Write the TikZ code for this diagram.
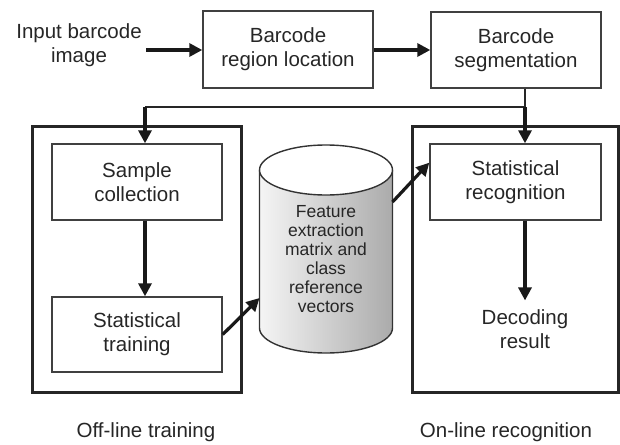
\documentclass[tikz,border=0pt]{standalone}
\usepackage{fontspec}
\setmainfont{Liberation Sans}
\usetikzlibrary{arrows.meta,calc}
\begin{document}
\begin{tikzpicture}[x=1pt,y=-1pt,
  txt/.style={text=black!85, align=center, font=\fontsize{20.5}{24}\selectfont},
  box/.style={txt, draw=black!75, line width=1.4pt, minimum width=170pt, inner sep=0pt},
  frame/.style={draw=black!85, line width=3pt, minimum width=206pt, minimum height=266pt},
  arr/.style={draw=black!90, line width=3.2pt, -{Triangle[length=13pt,width=13pt]}},
  thinline/.style={draw=black!85, line width=1.6pt},
  cylline/.style={draw=black!80, line width=1.4pt}]
\useasboundingbox (0,0) rectangle (620,444);

% top row
\node[txt] (in) at (79,45) {Input barcode\\image};
\node[box, minimum height=77pt] (loc) at (288,49.5) {Barcode\\region location};
\node[box, minimum height=76pt] (seg) at (516,50) {Barcode\\segmentation};

% frames
\node[frame, minimum width=209pt] (off) at (136.5,259) {};
\node[frame] (on) at (515,259) {};

% inner boxes
\node[box, minimum height=76pt] (samp) at (137,182) {Sample\\collection};
\node[box, minimum height=75pt] (train) at (137,334.5) {Statistical\\training};
\node[box, minimum width=171pt, minimum height=76pt] (recog) at (515.5,182) {Statistical\\recognition};
\node[txt] (dec) at (525,329.5) {Decoding\\result};

% labels
\node[txt] (offl) at (146,432) {Off-line training};
\node[txt] (onl) at (506,432) {On-line recognition};

% cylinder
\path[left color=black!4, right color=black!33]
  (259.5,170) -- (259.5,328) arc[start angle=180, end angle=0, x radius=66.5, y radius=25]
  -- (392.5,170) -- cycle;
\draw[cylline] (259.5,170) -- (259.5,328)
  arc[start angle=180, end angle=0, x radius=66.5, y radius=25] -- (392.5,170);
\draw[cylline, fill=white] (326,170) ellipse[x radius=66.5, y radius=25];
\node[align=center, text=black!85, font=\fontsize{17.5}{19}\selectfont] (db) at (326,259)
  {Feature\\extraction\\matrix and\\class\\reference\\vectors};
\coordinate (cl) at (259.5,298);
\coordinate (cr) at (392.5,202);

% connectors
\coordinate (jL) at (145,107);
\coordinate (jR) at (525,107);
\coordinate (inR) at (146,50);
\draw[arr] (inR) -- (loc.west |- inR);
\draw[arr] (loc.east |- inR) -- (seg.west |- inR);
\draw[thinline] (seg.south -| jR) -- (jR) -- (jL);
\draw[arr] (jL) -- (jL |- samp.north);
\draw[arr] (jR) -- (jR |- recog.north);
\draw[arr] (samp.south -| jL) -- (train.north -| jL);
\draw[arr] (recog.south -| jR) -- ([yshift=6pt]dec.north -| jR);
\draw[arr] (train.east) -- (cl);
\draw[arr] (cr) -- ($(recog.north west)!0.25!(recog.south west)$);
\end{tikzpicture}
\end{document}
